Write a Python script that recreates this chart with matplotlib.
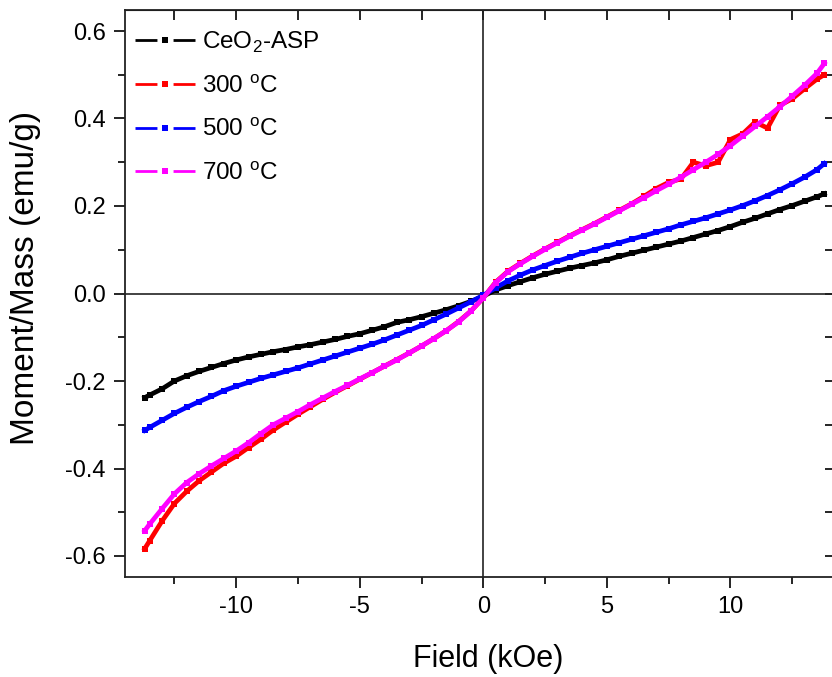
import matplotlib
matplotlib.use("Agg")
import matplotlib.pyplot as plt
from matplotlib.lines import Line2D
from matplotlib.ticker import MultipleLocator, FuncFormatter

plt.rcParams["font.family"] = ["Liberation Sans", "DejaVu Sans"]
plt.rcParams["axes.unicode_minus"] = False
plt.rcParams["mathtext.fontset"] = "custom"
plt.rcParams["mathtext.rm"] = "Liberation Sans"

# data
field = [-13.7, -13.5, -13.0, -12.5, -12.0, -11.5, -11.0, -10.5, -10.0, -9.5,
         -9.0, -8.5, -8.0, -7.5, -7.0, -6.5, -6.0, -5.5, -5.0, -4.5,
         -4.0, -3.5, -3.0, -2.5, -2.0, -1.5, -1.0, -0.5, 0.0, 0.5,
         1.0, 1.5, 2.0, 2.5, 3.0, 3.5, 4.0, 4.5, 5.0, 5.5,
         6.0, 6.5, 7.0, 7.5, 8.0, 8.5, 9.0, 9.5, 10.0, 10.5,
         11.0, 11.5, 12.0, 12.5, 13.0, 13.5, 13.8]

ceo2_asp = [-0.238, -0.232, -0.218, -0.200, -0.188, -0.178, -0.169, -0.160, -0.152, -0.145,
            -0.139, -0.133, -0.128, -0.122, -0.117, -0.111, -0.105, -0.098, -0.092, -0.084,
            -0.076, -0.066, -0.060, -0.053, -0.045, -0.037, -0.028, -0.018, -0.006, 0.008,
            0.018, 0.027, 0.036, 0.044, 0.051, 0.058, 0.064, 0.070, 0.077, 0.085,
            0.092, 0.099, 0.106, 0.113, 0.120, 0.128, 0.136, 0.144, 0.153, 0.163,
            0.172, 0.182, 0.192, 0.201, 0.211, 0.221, 0.228]

t300 = [-0.583, -0.565, -0.520, -0.480, -0.452, -0.428, -0.408, -0.388, -0.372, -0.352,
        -0.333, -0.312, -0.294, -0.276, -0.259, -0.242, -0.226, -0.211, -0.196, -0.181,
        -0.166, -0.151, -0.136, -0.120, -0.103, -0.085, -0.064, -0.040, -0.010, 0.026,
        0.051, 0.069, 0.086, 0.102, 0.117, 0.132, 0.146, 0.160, 0.175, 0.190,
        0.205, 0.222, 0.240, 0.254, 0.262, 0.300, 0.292, 0.300, 0.352, 0.365,
        0.392, 0.378, 0.430, 0.445, 0.468, 0.490, 0.500]

t500 = [-0.313, -0.306, -0.290, -0.274, -0.260, -0.247, -0.235, -0.222, -0.212, -0.203,
        -0.194, -0.186, -0.178, -0.170, -0.161, -0.152, -0.143, -0.134, -0.125, -0.116,
        -0.106, -0.095, -0.084, -0.073, -0.060, -0.047, -0.033, -0.019, -0.004, 0.013,
        0.029, 0.042, 0.054, 0.064, 0.074, 0.083, 0.092, 0.100, 0.108, 0.116,
        0.124, 0.132, 0.140, 0.148, 0.157, 0.165, 0.173, 0.182, 0.191, 0.201,
        0.212, 0.224, 0.237, 0.251, 0.266, 0.283, 0.297]

t700 = [-0.542, -0.527, -0.492, -0.458, -0.432, -0.412, -0.394, -0.377, -0.360, -0.341,
        -0.320, -0.300, -0.285, -0.270, -0.254, -0.239, -0.224, -0.210, -0.195, -0.181,
        -0.166, -0.152, -0.136, -0.120, -0.103, -0.085, -0.065, -0.040, -0.010, 0.025,
        0.050, 0.068, 0.085, 0.101, 0.116, 0.131, 0.145, 0.159, 0.174, 0.189,
        0.204, 0.219, 0.235, 0.250, 0.266, 0.283, 0.300, 0.318, 0.338, 0.360,
        0.382, 0.404, 0.427, 0.451, 0.476, 0.503, 0.526]

labels = ["CeO$_2$-ASP", "300 $^{\\mathregular{o}}$C", "500 $^{\\mathregular{o}}$C", "700 $^{\\mathregular{o}}$C"]
colours = ["#000000", "#ff0000", "#0000ff", "#ff00ff"]

fig = plt.figure(figsize=(8.32, 6.77), dpi=100)
ax = fig.add_axes([125 / 832, 100 / 677, 708 / 832, 567 / 677])

for ys, col in zip([ceo2_asp, t300, t500, t700], colours):
    ax.plot(field, ys, color=col, linewidth=3.4, marker="s", markersize=5,
            markeredgewidth=0, zorder=3)

ax.axhline(0, color="#222222", linewidth=1.2, zorder=2)
ax.axvline(0, color="#222222", linewidth=1.2, zorder=2)

ax.set_xlim(-14.5, 14.15)
ax.set_ylim(-0.648, 0.648)

ax.xaxis.set_major_locator(MultipleLocator(5))
ax.xaxis.set_minor_locator(MultipleLocator(2.5))
ax.yaxis.set_major_locator(MultipleLocator(0.2))
ax.yaxis.set_minor_locator(MultipleLocator(0.1))
ax.xaxis.set_major_formatter(FuncFormatter(lambda v, p: f"{v:.0f}"))
ax.yaxis.set_major_formatter(FuncFormatter(lambda v, p: f"{v:.1f}"))

ax.tick_params(which="major", direction="out", length=8, width=1.2, labelsize=17, pad=6)
ax.tick_params(which="minor", direction="out", length=5, width=1.2)

for sp in ax.spines.values():
    sp.set_linewidth(1.3)
    sp.set_color("#222222")

# mirror ticks pointing inward on top and right
top = ax.secondary_xaxis("top")
top.xaxis.set_major_locator(MultipleLocator(5))
top.xaxis.set_minor_locator(MultipleLocator(2.5))
top.tick_params(which="both", direction="in", length=7, width=1.2, labeltop=False)
right = ax.secondary_yaxis("right")
right.yaxis.set_major_locator(MultipleLocator(0.2))
right.yaxis.set_minor_locator(MultipleLocator(0.1))
right.tick_params(which="both", direction="in", length=6, width=1.2, labelright=False)

ax.set_xlabel("Field (kOe)", fontsize=22)
ax.set_ylabel("Moment/Mass (emu/g)", fontsize=24)
ax.xaxis.set_label_coords(0.513, -0.118)
ax.yaxis.set_label_coords(-0.118, 0.527)

# Origin-style legend keys: line - gap with square - line
handles = [Line2D([], [], color=col, linewidth=2, dashes=(7.9, 5.8), marker="s",
                  markersize=5, markeredgewidth=0) for col in colours]
ax.legend(handles, labels, loc="upper left", bbox_to_anchor=(0.0, 0.983), frameon=False,
          fontsize=17.5, numpoints=1, handlelength=2.47, handletextpad=0.3,
          labelspacing=0.84, borderaxespad=0.0)

fig.savefig("out.png", dpi=100, facecolor="white")
